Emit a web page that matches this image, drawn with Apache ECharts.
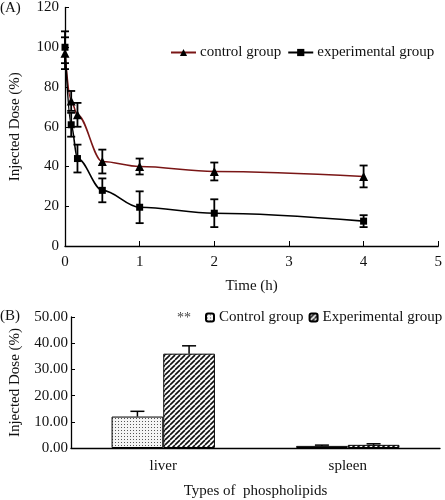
<!DOCTYPE html>
<html><head><meta charset="utf-8">
<script src="https://cdn.jsdelivr.net/npm/echarts@6/dist/echarts.min.js"></script>
<style>html,body{margin:0;padding:0;background:#fff}#c{width:445px;height:500px}</style>
</head><body><div id="c"></div>
<script>
// ---- Data (A) ----
var timeH = [0, 0.083, 0.167, 0.5, 1, 2, 4];
var controlDose = [97, 73, 66, 42.5, 40, 37.5, 35];
var controlErr = [8, 5, 6, 6, 4, 4.5, 5.5];
var expDose = [100, 61, 44, 28, 19.5, 16.5, 12.5];
var expErr = [8, 6, 7, 6, 8, 7, 3];
var xTicksA = [0, 1, 2, 3, 4, 5];
// ---- Data (B) ----
var organs = ['liver', 'spleen'];
var controlOrgan = [12, 0.8];
var controlOrganErr = [2, 0.3];
var expOrgan = [36, 1.2];
var expOrganErr = [3, 0.4];

var FONT = '"Liberation Serif", "DejaVu Serif", serif';
var FS = 15;

function dotPattern() {
  var c = document.createElement('canvas'); c.width = 3; c.height = 3;
  var g = c.getContext('2d');
  g.fillStyle = '#f4f4f4'; g.fillRect(0, 0, 3, 3);
  g.fillStyle = '#555'; g.fillRect(1, 1, 1, 1);
  return c;
}
function hatchPattern() {
  var s = 5;
  var c = document.createElement('canvas'); c.width = s; c.height = s;
  var g = c.getContext('2d');
  g.fillStyle = '#fff'; g.fillRect(0, 0, s, s);
  g.strokeStyle = '#111'; g.lineWidth = 1.6;
  for (var k = -1; k <= 1; k++) {
    g.beginPath(); g.moveTo(k * s, s); g.lineTo(k * s + s, 0); g.stroke();
  }
  return c;
}

function lineErr(xs, ys, es) {
  return xs.map(function (x, i) { return [x, ys[i] - es[i], ys[i] + es[i]]; });
}

function errRenderA(params, api) {
  var x = api.value(0), lo = api.value(1), hi = api.value(2);
  var p1 = api.coord([x, lo]), p2 = api.coord([x, hi]);
  var w = 4;
  var st = { stroke: '#000', lineWidth: 1.8 };
  return { type: 'group', children: [
    { type: 'line', shape: { x1: p1[0], y1: p1[1], x2: p2[0], y2: p2[1] }, style: st },
    { type: 'line', shape: { x1: p1[0] - w, y1: p1[1], x2: p1[0] + w, y2: p1[1] }, style: st },
    { type: 'line', shape: { x1: p2[0] - w, y1: p2[1], x2: p2[0] + w, y2: p2[1] }, style: st }
  ]};
}

var GAP = 0.44;
function makeErrRenderB(sideSign) {
  return function (params, api) {
    var ci = api.value(0), top = api.value(1), hi = api.value(2);
    var band = api.size([1, 0])[0];
    var bw = band * (1 - GAP) / 2;
    var c0 = api.coord([ci, top]), c1 = api.coord([ci, hi]);
    var x = c0[0] + sideSign * bw / 2;
    var w = 7;
    var st = { stroke: '#000', lineWidth: 1.5 };
    return { type: 'group', children: [
      { type: 'line', shape: { x1: x, y1: c0[1], x2: x, y2: c1[1] }, style: st },
      { type: 'line', shape: { x1: x - w, y1: c1[1], x2: x + w, y2: c1[1] }, style: st }
    ]};
  };
}

var chart = echarts.init(document.getElementById('c'), null, { renderer: 'canvas' });
var lbl = { fontFamily: FONT, fontSize: FS, color: '#111' };
var option = {
  backgroundColor: '#fff',
  animation: false,
  textStyle: { fontFamily: FONT },
  grid: [
    { left: 60, top: 7, width: 380, height: 239 },
    { left: 64, top: 317, width: 376, height: 133 }
  ],
  xAxis: [
    { gridIndex: 0, type: 'value', min: 0, max: 5, interval: 1,
      name: 'Time (h)', nameLocation: 'middle', nameGap: 33,
      nameTextStyle: lbl,
      axisLine: { lineStyle: { color: '#000', width: 1.3 } },
      axisTick: { inside: true, length: 5, lineStyle: { color: '#000' } },
      axisLabel: Object.assign({ margin: 9, customValues: xTicksA }, lbl),
      splitLine: { show: false } },
    { gridIndex: 1, type: 'category', data: organs,
      name: 'Types of  phospholipids', nameLocation: 'middle', nameGap: 36,
      nameTextStyle: lbl,
      axisLine: { lineStyle: { color: '#000', width: 1.3 } },
      axisTick: { inside: true, length: 4, lineStyle: { color: '#000' } },
      axisLabel: Object.assign({ margin: 11 }, lbl),
      splitLine: { show: false } }
  ],
  yAxis: [
    { gridIndex: 0, type: 'value', min: 0, max: 120, interval: 20,
      name: 'Injected Dose (%)', nameLocation: 'middle', nameGap: 42,
      nameTextStyle: lbl,
      axisLine: { show: true, lineStyle: { color: '#000', width: 1.3 } },
      axisTick: { show: true, inside: true, length: 4, lineStyle: { color: '#000' } },
      axisLabel: Object.assign({ margin: 6 }, lbl),
      splitLine: { show: false } },
    { gridIndex: 1, type: 'value', min: 0, max: 50, interval: 10,
      name: 'Injected Dose (%)', nameLocation: 'middle', nameGap: 48,
      nameTextStyle: lbl,
      axisLine: { show: true, lineStyle: { color: '#000', width: 1.3 } },
      axisTick: { show: true, inside: true, length: 4, lineStyle: { color: '#000' } },
      axisLabel: Object.assign({ margin: 3, formatter: function (v) { return v.toFixed(2); } }, lbl),
      splitLine: { show: false } }
  ],
  legend: [
    { data: ['control group', 'experimental group'], left: 165, top: 40,
      itemWidth: 25, itemHeight: 9, itemGap: 6,
      textStyle: { fontFamily: FONT, fontSize: FS, color: '#111', padding: [0, 0, 0, -1] } },
    { data: ['Control group', 'Experimental group'], left: 205, top: 310, width: 300,
      padding: 0, orient: 'horizontal',
      itemWidth: 8, itemHeight: 8, itemGap: 5,
      textStyle: { fontFamily: FONT, fontSize: FS, color: '#111' } }
  ],
  graphic: [
    { type: 'text', left: 0, top: 1, style: { text: '(A)', font: FS + 'px ' + FONT, fill: '#111' } },
    { type: 'text', left: 0, top: 309, style: { text: '(B)', font: FS + 'px ' + FONT, fill: '#111' } },
    { type: 'text', left: 177, top: 311, style: { text: '**', font: '14px ' + FONT, fill: '#444' } }
  ],
  series: [
    { name: 'control group', type: 'line', xAxisIndex: 0, yAxisIndex: 0,
      data: timeH.map(function (t, i) { return [t, controlDose[i]]; }),
      smooth: 0.35, smoothMonotone: 'x',
      symbol: 'triangle', symbolSize: 9,
      itemStyle: { color: '#000' }, lineStyle: { color: '#7a1616', width: 1.6 }, z: 3 },
    { name: 'experimental group', type: 'line', xAxisIndex: 0, yAxisIndex: 0,
      data: timeH.map(function (t, i) { return [t, expDose[i]]; }),
      smooth: 0.35, smoothMonotone: 'x',
      symbol: 'rect', symbolSize: 7,
      itemStyle: { color: '#000' }, lineStyle: { color: '#000', width: 1.6 }, z: 3 },
    { type: 'custom', xAxisIndex: 0, yAxisIndex: 0, renderItem: errRenderA,
      data: lineErr(timeH, controlDose, controlErr), z: 4, silent: true },
    { type: 'custom', xAxisIndex: 0, yAxisIndex: 0, renderItem: errRenderA,
      data: lineErr(timeH, expDose, expErr), z: 4, silent: true },
    { name: 'Control group', type: 'bar', xAxisIndex: 1, yAxisIndex: 1,
      data: controlOrgan, barGap: '0%', barCategoryGap: (GAP * 100) + '%',
      itemStyle: { color: { image: dotPattern(), repetition: 'repeat' }, borderColor: '#000', borderWidth: 1 } },
    { name: 'Experimental group', type: 'bar', xAxisIndex: 1, yAxisIndex: 1,
      data: expOrgan, barGap: '0%', barCategoryGap: (GAP * 100) + '%',
      itemStyle: { color: { image: hatchPattern(), repetition: 'repeat' }, borderColor: '#000', borderWidth: 1 } },
    { type: 'custom', xAxisIndex: 1, yAxisIndex: 1, renderItem: makeErrRenderB(-1),
      data: controlOrgan.map(function (v, i) { return [i, v, v + controlOrganErr[i]]; }), z: 4, silent: true },
    { type: 'custom', xAxisIndex: 1, yAxisIndex: 1, renderItem: makeErrRenderB(1),
      data: expOrgan.map(function (v, i) { return [i, v, v + expOrganErr[i]]; }), z: 4, silent: true }
  ]
};
chart.setOption(option);
</script>
</body></html>
